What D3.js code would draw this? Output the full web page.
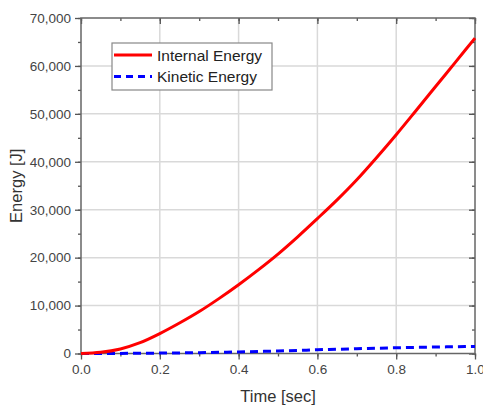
<!DOCTYPE html>
<html><head><meta charset="utf-8">
<script src="https://cdn.jsdelivr.net/npm/d3@7/dist/d3.min.js"></script>
<style>html,body{margin:0;padding:0;background:#fff;}svg{display:block;}</style>
</head><body>
<script>
const times = [0,0.05,0.1,0.15,0.2,0.25,0.3,0.35,0.4,0.45,0.5,0.55,0.6,0.65,0.7,0.75,0.8,0.85,0.9,0.95,1.0];
const internalEnergy = [0,250,950,2250,4150,6350,8750,11450,14350,17450,20750,24350,28150,32050,36250,40850,45650,50650,55700,60750,65800];
const kineticEnergy = [0,5,20,45,80,125,180,250,330,420,520,640,780,890,1000,1100,1200,1280,1350,1410,1460];
const xTicks = [0,0.2,0.4,0.6,0.8,1.0];
const yTicks = [0,10000,20000,30000,40000,50000,60000,70000];
const seriesNames = ["Internal Energy","Kinetic Energy"];
const seriesColors = ["#ff0000","#0000ff"];

const W=483,H=405;
const svg=d3.select("body").append("svg").attr("width",W).attr("height",H);
const x=d3.scaleLinear().domain([0,1]).range([81,475]);
const y=d3.scaleLinear().domain([0,70000]).range([353.5,18]);
const font="Liberation Sans, Arial, sans-serif";

// grid
svg.append("g").selectAll("line").data(xTicks.slice(1,-1)).join("line")
  .attr("x1",d=>x(d)).attr("x2",d=>x(d)).attr("y1",y(0)).attr("y2",y(70000))
  .attr("stroke","#d9d9d9").attr("stroke-width",1.5);
svg.append("g").selectAll("line").data(yTicks.slice(1,-1)).join("line")
  .attr("y1",d=>y(d)).attr("y2",d=>y(d)).attr("x1",x(0)).attr("x2",x(1))
  .attr("stroke","#d9d9d9").attr("stroke-width",1.5);

const fmtY=d3.format(",");
const fmtX=d3.format(".1f");
const minorX=d3.range(0,1.0001,0.1);
const minorY=d3.range(0,70001,5000);

function styleAxis(g){
  g.select(".domain").remove();
  g.selectAll(".tick line").attr("stroke","#555").attr("stroke-width",1.3);
  g.selectAll("text").attr("fill","#444").style("font-family",font).style("font-size","13.5px");
}
// minor ticks
svg.append("g").attr("transform",`translate(0,${y(0)})`).call(d3.axisBottom(x).tickValues(minorX).tickSize(3).tickFormat("")).call(styleAxis);
svg.append("g").attr("transform",`translate(${x(0)},0)`).call(d3.axisLeft(y).tickValues(minorY).tickSize(3).tickFormat("")).call(styleAxis);
svg.append("g").attr("transform",`translate(0,${y(70000)})`).call(d3.axisBottom(x).tickValues(minorX).tickSize(3).tickFormat("")).call(styleAxis);
svg.append("g").attr("transform",`translate(${x(1)},0)`).call(d3.axisLeft(y).tickValues(minorY).tickSize(3).tickFormat("")).call(styleAxis);
// major ticks
svg.append("g").attr("transform",`translate(0,${y(0)})`).call(d3.axisBottom(x).tickValues(xTicks).tickSize(6).tickPadding(5).tickFormat(fmtX)).call(styleAxis);
svg.append("g").attr("transform",`translate(${x(0)},0)`).call(d3.axisLeft(y).tickValues(yTicks).tickSize(6).tickPadding(4).tickFormat(fmtY)).call(styleAxis);
svg.append("g").attr("transform",`translate(0,${y(70000)})`).call(d3.axisBottom(x).tickValues(xTicks).tickSize(6).tickFormat("")).call(styleAxis);
svg.append("g").attr("transform",`translate(${x(1)},0)`).call(d3.axisLeft(y).tickValues(yTicks).tickSize(6).tickFormat("")).call(styleAxis);

// frame
svg.append("rect").attr("x",x(0)).attr("y",y(70000)).attr("width",x(1)-x(0)).attr("height",y(0)-y(70000))
  .attr("fill","none").attr("stroke","#666").attr("stroke-width",1.5);

// lines
const line=d3.line().x((d,i)=>x(times[i])).y(d=>y(d)).curve(d3.curveMonotoneX);
svg.append("path").datum(kineticEnergy).attr("d",line).attr("fill","none")
  .attr("stroke",seriesColors[1]).attr("stroke-width",3).attr("stroke-dasharray","8,5");
svg.append("path").datum(internalEnergy).attr("d",line).attr("fill","none")
  .attr("stroke",seriesColors[0]).attr("stroke-width",3);

// axis titles
svg.append("text").attr("x",278).attr("y",402).attr("text-anchor","middle")
  .style("font-family",font).style("font-size","16.5px").attr("fill","#333").text("Time [sec]");
svg.append("text").attr("transform",`translate(22,${(y(0)+y(70000))/2}) rotate(-90)`).attr("text-anchor","middle")
  .style("font-family",font).style("font-size","16.5px").attr("fill","#333").text("Energy [J]");

// legend
const lg=svg.append("g");
lg.append("rect").attr("x",112).attr("y",43).attr("width",160).attr("height",47)
  .attr("fill","#fff").attr("stroke","#888").attr("stroke-width",1.2);
seriesNames.forEach((n,i)=>{
  const yy=55+i*21.5;
  lg.append("line").attr("x1",114).attr("x2",152).attr("y1",yy).attr("y2",yy)
    .attr("stroke",seriesColors[i]).attr("stroke-width",3).attr("stroke-dasharray",i?"7,5":null);
  lg.append("text").attr("x",157).attr("y",yy+5.5).style("font-family",font).style("font-size","15.5px")
    .attr("fill","#222").text(n);
});
</script>
</body></html>
